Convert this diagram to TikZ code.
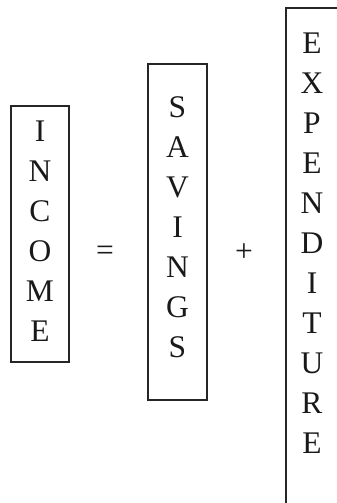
\documentclass[tikz,border=0pt]{standalone}
\usepackage{fontspec}
\setmainfont{Liberation Serif}
\begin{document}
\begin{tikzpicture}[x=1pt,y=-1pt,
  wordbox/.style={draw=black!85,line width=1.7pt,rectangle,inner sep=0pt},
  letter/.style={anchor=base,inner sep=0pt,font=\fontsize{31.5}{31.5}\selectfont,text=black!90},
  sign/.style={inner sep=0pt,font=\fontsize{31.5}{31.5}\selectfont,text=black!90}]
\useasboundingbox (0,0) rectangle (337,503);
% boxes
\node[wordbox,minimum width=58pt,minimum height=256pt] (incomebox) at (40,234) {};
\node[wordbox,minimum width=59pt,minimum height=336pt] (savingsbox) at (177.5,232) {};
\node[wordbox,minimum width=70pt,minimum height=512pt] (expbox) at (321,264) {};
% letters
\foreach \ch [count=\k from 0] in {I,N,C,O,M,E}
  \node[letter] (in\k) at (40,141.5+40*\k) {\ch};
\foreach \ch [count=\k from 0] in {S,A,V,I,N,G,S}
  \node[letter] (sa\k) at (177.5,117.5+40*\k) {\ch};
\foreach \ch [count=\k from 0] in {E,X,P,E,N,D,I,T,U,R,E}
  \node[letter] (ex\k) at (312,53+40*\k) {\ch};
% operators
\node[sign] (eq) at (105,253) {=};
\node[sign] (plus) at (244,253) {+};
\end{tikzpicture}
\end{document}
